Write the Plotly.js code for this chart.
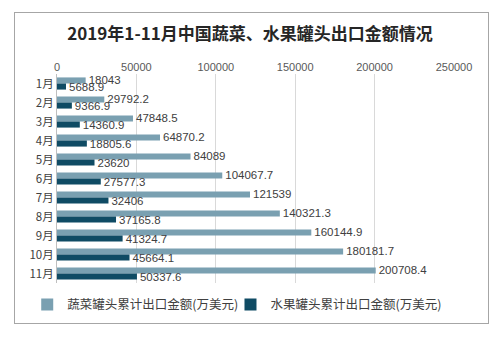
<!DOCTYPE html>
<html><head><meta charset="utf-8">
<script src="https://cdn.plot.ly/plotly-3.0.1.min.js"></script>
<style>body{margin:0;background:#fff}#frame{position:absolute;left:14px;top:12px;width:473px;height:310px;border:1px solid #a6a6a6;pointer-events:none}</style>
</head><body>
<div id="chart" style="width:500px;height:344px"></div>
<div id="frame"></div>
<script>
const months = ["1月","2月","3月","4月","5月","6月","7月","8月","9月","10月","11月"];
const vegetable = [18043,29792.2,47848.5,64870.2,84089,104067.7,121539,140321.3,160144.9,180181.7,200708.4];
const fruit = [5688.9,9366.9,14360.9,18805.6,23620,27577.3,32406,37165.8,41324.7,45664.1,50337.6];
const tickVals = [0,50000,100000,150000,200000,250000];
const seriesNames = ["蔬菜罐头累计出口金额(万美元)","水果罐头累计出口金额(万美元)"];

const labelFont = {family:"Liberation Sans, Arial, sans-serif", size:11.5, color:"#404040"};
const traces = [
  {type:"bar", orientation:"h", name:seriesNames[0], y:months, x:vegetable, legend:"legend",
   marker:{color:"#7aa0b1"}, text:vegetable.map(String), textposition:"outside", constraintext:"none",
   textfont:labelFont, cliponaxis:false},
  {type:"bar", orientation:"h", name:seriesNames[1], y:months, x:fruit, legend:"legend2",
   marker:{color:"#0f4b64"}, text:fruit.map(String), textposition:"outside", constraintext:"none",
   textfont:labelFont, cliponaxis:false}
];
const legFont = {family:"Noto Sans CJK SC, sans-serif", size:12.5, color:"#404040"};
const layout = {
  width:500, height:344,
  margin:{l:57, r:46, t:74, b:61},
  paper_bgcolor:"rgba(0,0,0,0)", plot_bgcolor:"rgba(0,0,0,0)",
  title:{text:"<b>2019年1-11月中国蔬菜、水果罐头出口金额情况</b>", x:0.5, xanchor:"center", y:0.9, yref:"container", yanchor:"middle",
    font:{family:"Noto Sans CJK SC, sans-serif", size:17, color:"#262626"}},
  barmode:"group", bargap:0.36, bargroupgap:0,
  xaxis:{side:"top", range:[0,250000], tickvals:tickVals, ticktext:tickVals.map(String),
    showgrid:true, gridcolor:"#d9d9d9", zeroline:false, showline:false, ticks:"",
    tickfont:{family:"Liberation Sans, Arial, sans-serif", size:11, color:"#595959"}},
  yaxis:{autorange:"reversed", showline:true, linecolor:"#bfbfbf", ticks:"", showgrid:false,
    tickfont:{family:"Noto Sans CJK SC, sans-serif", size:11.5, color:"#404040"}},
  legend:{orientation:"h", x:-0.075, xanchor:"left", y:-0.105, yanchor:"middle", font:legFont, bgcolor:"rgba(0,0,0,0)"},
  legend2:{orientation:"h", x:0.437, xanchor:"left", y:-0.105, yanchor:"middle", font:legFont, bgcolor:"rgba(0,0,0,0)"},
  showlegend:true
};
Plotly.newPlot("chart", traces, layout, {displayModeBar:false, staticPlot:true});
</script>
</body></html>
